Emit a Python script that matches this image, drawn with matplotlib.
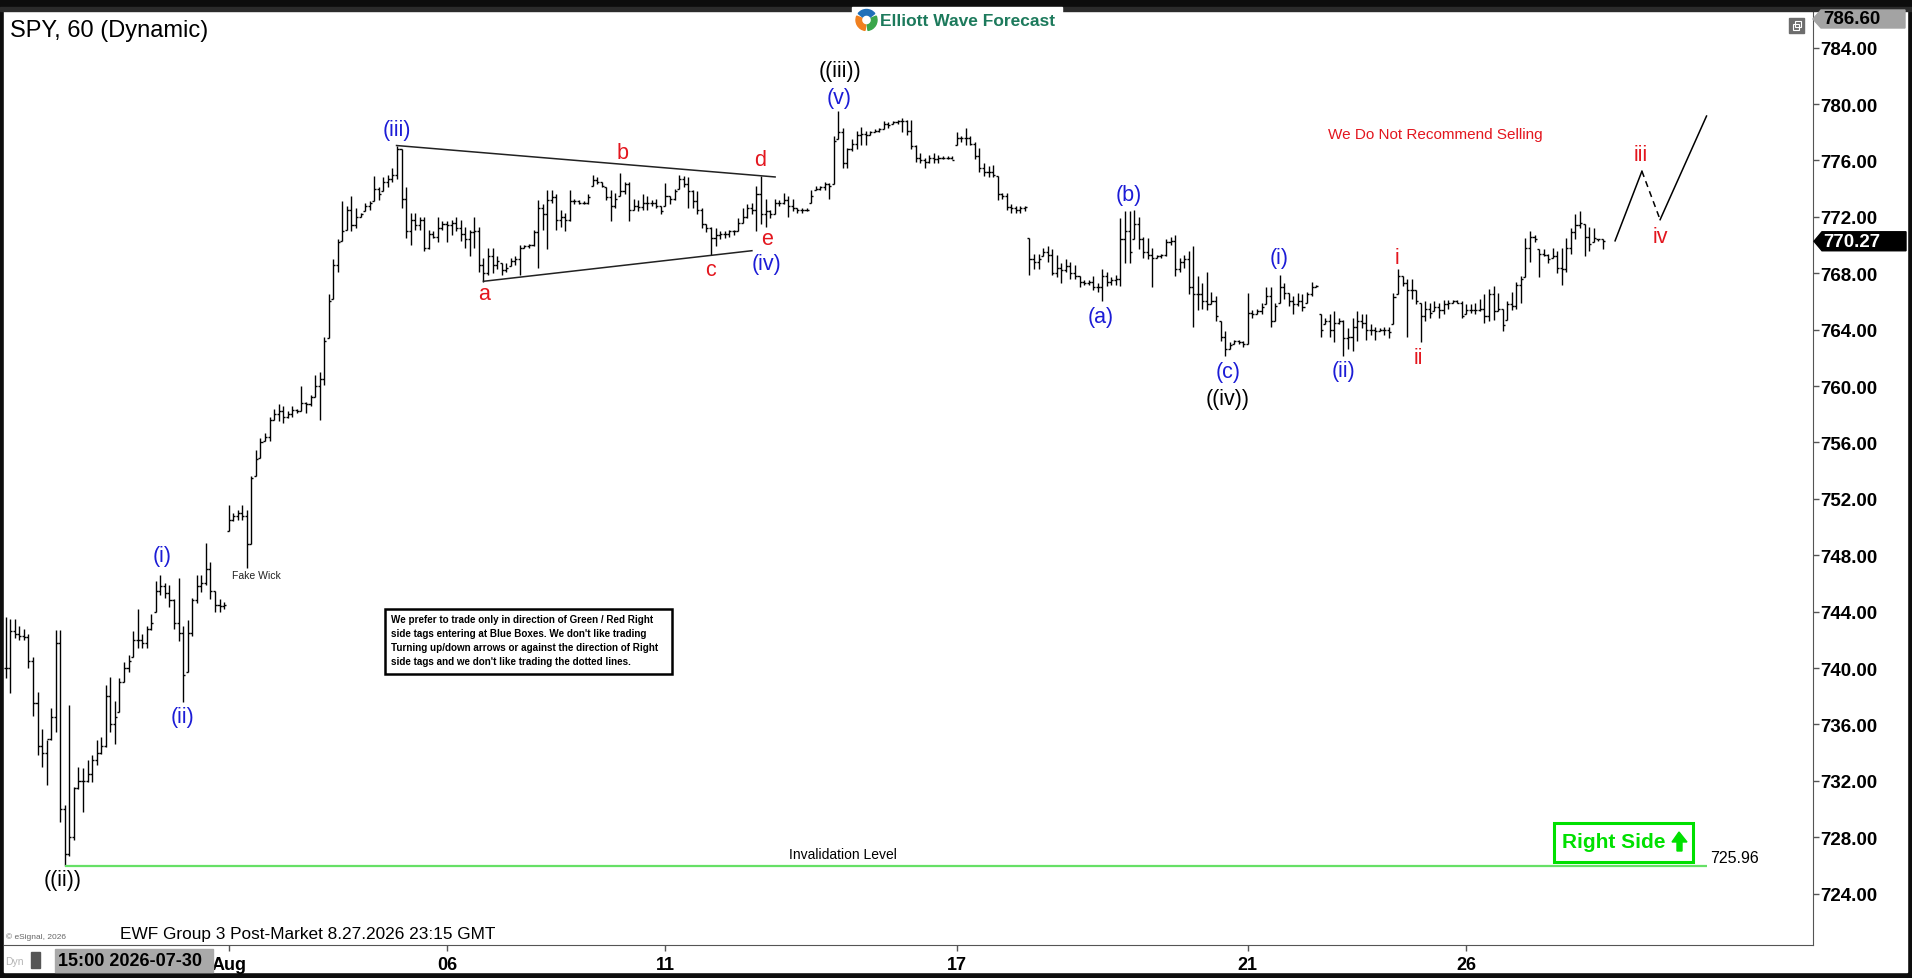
import numpy as np
import matplotlib
matplotlib.use('Agg')
import matplotlib.pyplot as plt
from matplotlib.patches import Rectangle, Polygon, Wedge

plt.rcParams['font.family'] = ['Liberation Sans', 'DejaVu Sans']

W, H = 1912, 979

# hourly bars (extended session)
highs = [
    743.6, 743.5, 743.5, 743.0, 742.8, 742.4, 740.8, 738.3, 735.7, 734.9,
    737.2, 742.7, 742.7, 730.3, 737.4, 731.6, 733.0, 732.9, 733.5, 733.8,
    734.9, 735.1, 738.8, 739.4, 737.7, 739.3, 740.4, 740.9, 742.6, 744.2,
    742.4, 743.0, 743.8, 746.2, 746.6, 746.0, 745.9, 744.9, 746.4, 743.0,
    743.4, 745.0, 746.6, 746.6, 748.9, 747.5, 745.5, 744.9, 744.7, 751.6,
    751.0, 751.2, 751.6, 751.2, 753.6, 755.5, 756.3, 756.7, 757.8, 758.4,
    758.7, 758.6, 758.2, 758.6, 758.4, 760.0, 758.9, 759.4, 760.8, 761.0,
    763.5, 766.5, 769.0, 770.4, 773.1, 772.8, 773.5, 772.6, 772.3, 773.0,
    773.1, 774.9, 774.1, 774.8, 775.0, 775.5, 777.0, 776.8, 774.1, 772.3,
    772.3, 772.0, 772.0, 771.1, 771.0, 772.0, 771.7, 771.7, 771.8, 772.0,
    771.8, 771.3, 771.1, 772.0, 771.3, 769.1, 769.8, 769.8, 769.2, 768.7,
    768.7, 769.1, 769.2,
    770.0, 770.0, 770.1, 771.1, 773.2, 772.9, 773.9, 773.9, 773.6, 772.5,
    772.3, 773.9, 773.3, 773.2, 773.1, 773.6, 775.0, 774.8, 774.5, 774.1,
    773.9, 773.7, 775.1, 774.5, 774.5, 773.3, 773.2, 773.6, 773.5, 773.2,
    773.3, 772.8, 774.4, 773.5, 774.0, 775.0, 774.9, 774.8, 773.9, 773.8,
    772.6, 771.5, 771.3, 771.2, 771.0, 771.0, 771.1, 771.1, 771.9, 772.6,
    772.9, 773.0, 774.2, 774.9, 773.3, 772.5, 773.3, 773.2, 773.7, 773.5,
    773.3, 772.6, 772.6, 772.6, 773.9, 774.2, 774.2, 774.5,
    774.4, 777.7, 779.5, 778.3, 776.9, 777.5, 778.1, 778.4, 778.1, 778.1,
    778.2, 778.3, 778.8, 778.7, 778.8, 778.9, 779.0, 778.9, 778.9, 777.1,
    776.5, 776.2, 776.4, 776.5, 776.4, 776.3, 776.3, 776.3, 778.0, 777.7,
    778.3, 777.7, 777.3, 776.9, 775.8, 775.6, 775.7, 774.9, 773.7, 773.7,
    772.9, 772.8, 772.8, 772.8, 770.5, 769.4, 769.4, 769.8, 769.9, 769.7,
    769.3, 768.7, 769.0, 768.8, 768.6, 767.8, 767.5, 767.5, 767.8, 767.3,
    768.3, 768.1, 767.7, 767.9, 771.9, 772.4, 772.4, 772.5, 772.0, 770.6,
    770.5, 769.8, 769.3, 769.4, 770.4, 770.6, 770.7, 769.1, 769.3, 769.6,
    769.9, 767.8, 767.3, 768.1, 766.7, 766.4, 764.6, 763.9, 763.1, 763.3,
    763.3, 763.2, 766.6, 765.4, 765.5, 765.9, 767.0, 767.0, 765.9, 767.9,
    767.3, 766.6, 766.4, 766.6, 766.5, 766.7, 767.4, 767.2, 765.1, 764.8,
    765.1, 765.3, 764.8, 764.7, 764.1, 764.8, 765.3, 765.1, 765.1, 764.4,
    764.2, 764.1, 764.2, 764.2, 766.6, 768.3, 767.8, 767.6, 767.6, 766.8,
    765.9, 766.0, 765.9, 766.0, 765.9, 766.1, 766.1, 766.1, 766.1, 766.0,
    765.8, 765.8, 765.9, 766.2, 766.5, 766.9, 767.1, 766.6, 765.5, 766.0,
    766.7, 767.4, 767.8, 770.5, 771.0, 770.7, 769.7, 769.7, 769.4, 769.8,
    769.6, 769.8, 770.5, 771.2, 772.2, 772.4, 771.5, 771.3, 771.2, 770.4,
    770.4,
]
lows = [
    739.3, 738.2, 742.1, 742.0, 742.0, 740.0, 736.6, 733.8, 733.0, 731.7,
    734.9, 735.5, 729.1, 725.96, 726.7, 727.8, 731.4, 729.8, 731.9, 731.9,
    733.1, 733.9, 734.4, 735.5, 734.6, 736.9, 739.0, 739.7, 740.8, 741.4,
    741.4, 741.4, 742.7, 744.0, 745.2, 745.0, 744.3, 742.8, 741.9, 737.6,
    739.7, 742.3, 744.6, 745.4, 745.9, 744.9, 744.0, 744.0, 744.2, 749.7,
    750.4, 750.5, 750.5, 747.1, 748.8, 753.6, 754.9, 756.1, 756.1, 757.6,
    757.5, 757.4, 757.7, 757.8, 758.1, 758.2, 758.1, 758.6, 759.2, 757.6,
    760.1, 763.4, 766.2, 768.1, 770.3, 771.1, 771.0, 771.2, 772.0, 772.4,
    772.5, 773.1, 773.2, 773.8, 774.1, 774.5, 774.7, 772.6, 770.5, 770.0,
    771.1, 771.1, 769.6, 769.7, 770.5, 770.2, 771.1, 770.2, 770.7, 771.0,
    770.3, 769.8, 769.2, 769.8, 768.1, 767.4, 767.9, 768.0, 768.3, 767.9,
    768.1, 768.5, 768.6,
    767.9, 769.8, 769.8, 769.9, 768.4, 771.1, 769.7, 773.0, 771.1, 771.3,
    771.0, 771.7, 772.9, 772.9, 772.9, 772.9, 774.2, 774.3, 774.1, 773.2,
    771.7, 772.6, 773.5, 773.6, 771.7, 772.5, 772.4, 772.5, 772.5, 772.8,
    772.6, 772.2, 772.8, 772.9, 773.2, 774.0, 774.1, 772.6, 772.6, 772.2,
    771.2, 770.9, 769.3, 769.9, 770.4, 770.5, 770.6, 770.7, 771.0, 771.6,
    771.9, 772.2, 771.0, 771.5, 771.3, 771.9, 772.2, 772.8, 772.9, 772.0,
    772.4, 772.3, 772.3, 772.4, 773.0, 773.9, 773.9, 773.9,
    773.3, 774.3, 777.5, 775.5, 775.5, 776.7, 776.8, 777.1, 777.1, 777.8,
    778.0, 778.0, 778.2, 778.3, 778.6, 778.6, 778.0, 777.8, 776.8, 775.9,
    775.8, 775.5, 775.8, 775.8, 775.8, 776.1, 776.1, 776.1, 777.1, 777.3,
    777.1, 777.1, 776.1, 775.2, 774.9, 774.8, 774.8, 773.2, 773.3, 772.5,
    772.3, 772.3, 772.3, 772.4, 767.9, 768.3, 768.3, 769.2, 768.8, 767.9,
    767.7, 767.3, 768.1, 767.6, 767.6, 767.0, 767.2, 767.2, 766.8, 766.7,
    766.0, 767.1, 767.2, 767.2, 767.1, 768.7, 768.7, 770.4, 769.7, 769.1,
    769.0, 767.0, 769.1, 769.1, 769.2, 770.0, 767.8, 768.1, 768.4, 766.5,
    764.2, 765.4, 765.5, 765.4, 765.8, 764.6, 763.2, 762.1, 762.6, 763.0,
    763.0, 762.8, 763.0, 764.8, 765.1, 765.1, 765.8, 764.2, 764.6, 765.9,
    766.2, 765.7, 765.1, 765.7, 765.3, 765.9, 766.4, 767.0, 763.5, 764.4,
    763.5, 763.1, 764.4, 762.1, 762.6, 762.5, 763.2, 764.1, 763.3, 763.6,
    763.3, 763.9, 763.6, 763.4, 764.4, 766.5, 767.1, 763.5, 766.2, 765.8,
    763.1, 764.6, 764.8, 765.3, 764.8, 765.1, 765.5, 765.9, 765.9, 764.8,
    765.1, 765.2, 765.1, 765.3, 764.5, 764.6, 764.7, 765.3, 763.9, 764.7,
    765.4, 765.5, 765.9, 767.7, 768.8, 770.2, 767.7, 769.2, 768.7, 769.1,
    768.0, 767.2, 768.1, 769.4, 770.4, 771.2, 769.2, 769.6, 770.2, 770.3,
    769.7,
]
closes = [
    740.0, 742.6, 742.4, 742.3, 742.2, 740.5, 737.5, 734.5, 734.0, 735.0,
    736.5, 741.8, 730.0, 726.8, 728.0, 731.5, 732.0, 732.0, 732.5, 733.5,
    734.0, 734.5, 738.0, 736.0, 736.5, 739.0, 740.0, 740.5, 742.0, 742.0,
    741.8, 742.8, 743.2, 745.5, 745.8, 745.3, 744.8, 743.2, 742.5, 739.5,
    742.5, 744.8, 745.8, 746.0, 747.0, 745.5, 744.5, 744.4, 744.5, 750.5,
    750.8, 751.0, 750.8, 748.8, 753.5, 754.8, 756.0, 756.4, 757.6, 758.0,
    758.2, 757.8, 758.0, 758.3, 758.2, 758.8, 758.7, 759.2, 760.0, 760.5,
    763.2, 766.0, 768.6, 770.2, 771.0, 772.5, 771.4, 772.0, 772.2, 772.8,
    773.0, 774.0, 773.6, 774.5, 774.7, 775.0, 776.8, 773.3, 771.0, 771.8,
    771.4, 771.8, 769.8, 770.8, 770.6, 771.2, 771.5, 771.4, 771.6, 771.2,
    770.8, 770.4, 770.9, 771.0, 768.6, 768.0, 769.2, 768.6, 768.9, 768.2,
    768.4, 768.9, 769.0,
    769.8, 769.9, 770.0, 770.9, 772.6, 772.2, 773.2, 773.4, 771.8, 772.0,
    771.8, 773.1, 773.1, 773.0, 773.0, 773.4, 774.6, 774.5, 774.2, 773.4,
    772.8, 773.3, 773.8, 774.3, 772.5, 772.8, 772.7, 773.0, 773.0, 773.0,
    772.8, 772.4, 773.5, 773.3, 773.8, 774.7, 774.3, 773.8, 773.1, 772.5,
    771.5, 771.2, 770.5, 770.7, 770.8, 770.8, 771.0, 771.0, 771.6, 772.0,
    772.6, 772.5, 773.6, 772.2, 772.4, 772.2, 773.0, 773.0, 773.2, 772.8,
    772.6, 772.5, 772.5, 772.5, 773.5, 774.0, 774.1, 774.3,
    774.2, 777.4, 778.0, 775.8, 776.8, 777.2, 777.8, 777.9, 777.8, 778.0,
    778.1, 778.2, 778.6, 778.5, 778.7, 778.8, 778.8, 778.1, 777.0, 776.2,
    776.0, 775.9, 776.2, 776.1, 776.2, 776.2, 776.2, 776.0, 777.6, 777.6,
    777.6, 777.2, 776.3, 775.5, 775.2, 775.2, 775.0, 773.6, 773.5, 772.7,
    772.6, 772.5, 772.6, 772.7, 769.0, 768.8, 769.0, 769.5, 769.3, 768.0,
    768.4, 768.2, 768.5, 768.0, 767.8, 767.4, 767.3, 767.4, 767.0, 767.0,
    767.8, 767.4, 767.5, 767.6, 770.4, 771.0, 769.5, 771.5, 770.4, 769.5,
    769.3, 769.1, 769.2, 769.3, 770.2, 770.3, 768.3, 768.8, 769.0, 767.0,
    766.5, 766.5, 766.0, 765.8, 766.0, 765.0, 763.5, 762.6, 762.9, 763.2,
    763.1, 763.0, 765.2, 765.1, 765.3, 765.6, 766.4, 764.6, 765.7, 767.0,
    766.6, 766.0, 765.8, 766.0, 765.6, 766.5, 767.0, 767.1, 764.0, 764.6,
    764.0, 764.5, 764.6, 763.4, 763.5, 764.2, 764.6, 764.5, 764.0, 764.0,
    763.9, 764.0, 764.0, 763.8, 766.3, 767.8, 767.3, 766.8, 766.8, 766.0,
    765.0, 765.5, 765.2, 765.6, 765.4, 765.8, 765.9, 766.0, 765.9, 765.0,
    765.4, 765.4, 765.4, 765.5, 765.0, 766.5, 765.3, 765.5, 764.3, 765.8,
    765.7, 767.2, 767.6, 769.8, 770.6, 770.4, 769.4, 769.3, 769.0, 769.2,
    768.4, 768.3, 769.8, 770.9, 771.4, 771.6, 770.6, 770.1, 770.5, 770.4,
    770.27,
]

day_ticks = [49, 97, 145, 209, 273, 321]
day_labels = ['Aug', '06', '11', '17', '21', '26']
price_ticks = [724, 728, 732, 736, 740, 744, 748, 752, 756, 760,
               764, 768, 772, 776, 780, 784]
y_top, y_bottom = 786.60, 720.36
invalidation = 725.96

# triangle (iv) boundaries
tri_upper_x, tri_upper_y = [85.9, 169.1], [777.06, 774.83]
tri_lower_x, tri_lower_y = [105.0, 164.0], [767.43, 769.60]
# projected path iii / iv
proj_x = [353.7, 359.6, 363.6, 373.8]
proj_y = [770.3, 775.24, 771.8, 779.15]

BLUE, RED, BLACK = '#1c1cd6', '#e3161e', 'black'
wave_text = ['((ii))', '(i)', '(ii)', '(iii)', 'a', 'b', 'c', 'd', 'e', '(iv)',
             '((iii))', '(v)', '(a)', '(b)', '(c)', '((iv))', '(i)', '(ii)',
             'i', 'ii', 'iii', 'iv']
wave_x = [12.6, 34.4, 38.8, 86.0, 105.1, 135.5, 154.8, 165.8, 167.3, 167.3,
          183.4, 183.1, 240.7, 246.9, 268.6, 268.6, 279.8, 294.1,
          305.8, 310.4, 359.4, 363.6]
wave_y = [725.0, 748.0, 736.6, 778.2, 766.6, 776.6, 768.3, 776.1, 770.5, 768.7,
          782.4, 780.5, 764.9, 773.6, 761.0, 759.1, 769.1, 761.1,
          769.1, 762.0, 776.4, 770.6]
wave_color = [BLACK, BLUE, BLUE, BLUE, RED, RED, RED, RED, RED, BLUE,
              BLACK, BLUE, BLUE, BLUE, BLUE, BLACK, BLUE, BLUE,
              RED, RED, RED, RED]

fig = plt.figure(figsize=(W / 100, H / 100), dpi=100, facecolor='#0d0d0d')

# white chart body inside the dark frame
fig.add_artist(Rectangle((4 / W, 6 / H), 1903 / W, 961 / H,
                         transform=fig.transFigure, color='white', zorder=0.5))

ax = fig.add_axes([4 / W, 33 / H, 1809 / W, 934 / H], zorder=1)
ax.set_facecolor('white')

x = np.arange(len(closes))
hi = np.array(highs)
lo = np.array(lows)
cl = np.array(closes)
op = np.clip(np.r_[cl[0], cl[:-1]], lo, hi)

ax.vlines(x, lo, hi, color='black', lw=1.0)
ax.hlines(op, x - 0.45, x, color='black', lw=1.0)
ax.hlines(cl, x, x + 0.45, color='black', lw=1.0)

ax.plot(tri_upper_x, tri_upper_y, color='#222222', lw=1.1)
ax.plot(tri_lower_x, tri_lower_y, color='#222222', lw=1.1)

ax.plot(proj_x[:2], proj_y[:2], color='black', lw=1.1)
ax.plot(proj_x[1:3], proj_y[1:3], color='black', lw=1.1, ls=(0, (4, 3)))
ax.plot(proj_x[2:], proj_y[2:], color='black', lw=1.1)

ax.hlines(invalidation, 13, 374, color='#66e066', lw=1.6)
ax.text(184, 726.8, 'Invalidation Level', fontsize=10, ha='center', va='center')
ax.text(374.6, 726.6, f'{invalidation:.2f}', fontsize=11.5, ha='left', va='center')
ax.text(55.2, 746.6, 'Fake Wick', fontsize=7.5, ha='center', va='center', color='#222222')

for t, xx, yy, c in zip(wave_text, wave_x, wave_y, wave_color):
    ax.text(xx, yy, t, color=c, fontsize=15.5, ha='center', va='center')

ax.set_xlim(-0.37, 397.2)
ax.set_ylim(y_bottom, y_top)

ax.spines['top'].set_visible(False)
ax.spines['left'].set_visible(False)
ax.spines['right'].set_color('#555555')
ax.spines['bottom'].set_color('#555555')

ax.yaxis.tick_right()
ax.set_yticks(price_ticks, labels=[f'{v:.2f}' for v in price_ticks],
              fontsize=13.5, fontweight='bold')
ax.tick_params(axis='y', length=4, width=1, color='#555555', pad=1.5)
ax.set_xticks(day_ticks, labels=day_labels, fontsize=13, fontweight='bold')
ax.tick_params(axis='x', length=4, width=1, color='#555555', pad=4)

# pixel-space overlay for the frame decorations
ov = fig.add_axes([0, 0, 1, 1], zorder=3)
ov.set_xlim(0, W)
ov.set_ylim(H, 0)
ov.axis('off')
ov.patch.set_alpha(0)


def ypix(p):
    return H - ax.transData.transform((0, p))[1]


ov.add_patch(Rectangle((0, 8), W, 4, color='#2b2b2b'))
ov.add_patch(Rectangle((852, 8), 210, 6, color='white'))

# logo
for t1, t2, c in [(90, 210, '#f0801f'), (-30, 90, '#3aa64a'), (210, 330, '#1f6fb8')]:
    ov.add_patch(Wedge((866.5, 21), 10.5, t1 + 8, t2 - 8, width=5.5, color=c))
ov.text(880, 21.5, 'Elliott Wave Forecast', fontsize=12.5, fontweight='bold',
        color='#1d7a5c', ha='left', va='center')

ov.text(10, 31, 'SPY, 60 (Dynamic)', fontsize=17, ha='left', va='center')

# restore icon
ov.add_patch(Rectangle((1789, 19), 15, 15, color='#6d6d6d'))
ov.add_patch(Rectangle((1793, 25), 6, 6, fill=False, ec='white', lw=0.8))
ov.add_patch(Rectangle((1795, 22), 6, 6, fill=False, ec='white', lw=0.8))

# top value marker
yc = ypix(y_top) + 8
ov.add_patch(Polygon([(1813, yc), (1821, yc - 9), (1905, yc - 9), (1905, yc + 9),
                      (1821, yc + 9)], closed=True, color='#a3a3a3'))
ov.text(1823, yc, f'{y_top:.2f}', fontsize=13.5, fontweight='bold', ha='left', va='center')

# last price marker
yc = ypix(closes[-1])
ov.add_patch(Polygon([(1814, yc), (1822, yc - 9.5), (1906, yc - 9.5), (1906, yc + 9.5),
                      (1822, yc + 9.5)], closed=True, color='black'))
ov.text(1823, yc, f'{closes[-1]:.2f}', fontsize=13.5, fontweight='bold', color='white',
        ha='left', va='center')

ov.text(1435, 135, 'We Do Not Recommend Selling', fontsize=11, color='#e3161e',
        ha='center', va='center')

# note box
ov.add_patch(Rectangle((385, 610), 287, 65, facecolor='white', edgecolor='black', lw=1.8))
note = ["We prefer to trade only in direction of Green / Red Right",
        "side tags entering at Blue Boxes. We don't like trading",
        "Turning up/down arrows or against the direction of Right",
        "side tags and we don't like trading the dotted lines."]
for k, line in enumerate(note):
    ov.text(391, 620 + 14 * k, line, fontsize=7.1, fontweight='bold', ha='left', va='center')

# right side tag
ov.add_patch(Rectangle((1554, 824), 139, 39, facecolor='white', edgecolor='#00e000', lw=2.2))
ov.text(1562, 848.5, 'Right Side', fontsize=15, fontweight='bold', color='#00e000',
        ha='left', va='baseline')
ov.add_patch(Polygon([(1672, 843), (1679, 833), (1687, 843), (1682, 843), (1682, 852),
                      (1677, 852), (1677, 843)], closed=True, color='#00e000'))

# footer
ov.text(6, 937, '\u00a9 eSignal, 2026', fontsize=6, color='#666666', ha='left', va='center')
ov.text(120, 935, 'EWF Group 3 Post-Market 8.27.2026 23:15 GMT', fontsize=12.4,
        ha='left', va='center')
ov.add_patch(Rectangle((55, 950), 158, 23, color='#a9a9a9'))
ov.text(58, 962, '15:00 2026-07-30', fontsize=13, fontweight='bold', ha='left', va='center')
ov.text(5, 962, 'Dyn', fontsize=7.5, color='#b5b5b5', ha='left', va='center')
ov.add_patch(Rectangle((31, 953), 9, 16, color='#555555'))

fig.savefig('out.png', dpi=100, facecolor=fig.get_facecolor())
